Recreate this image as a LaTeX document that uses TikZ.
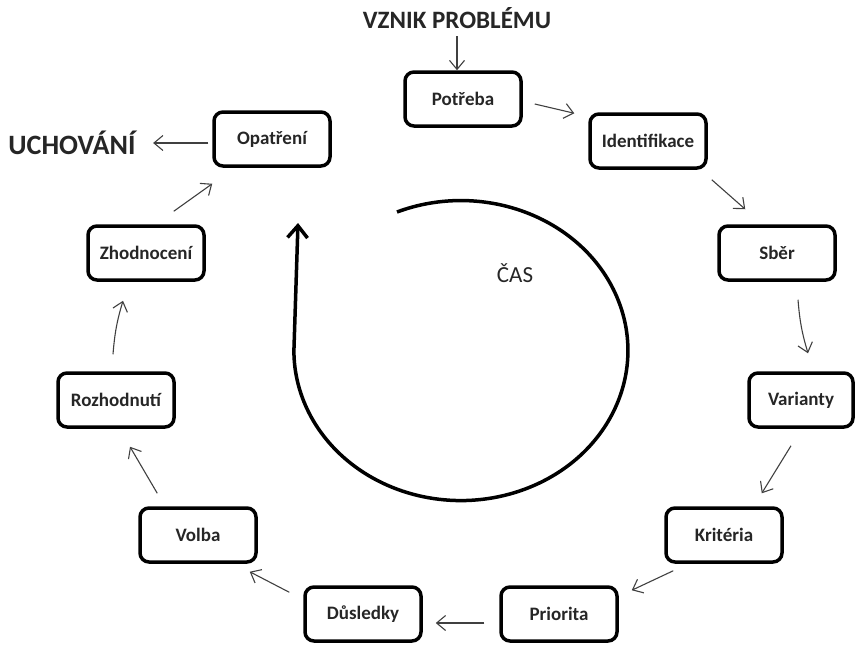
\documentclass[tikz,border=0pt]{standalone}
\usepackage{fontspec}
\setmainfont{Carlito}
\usetikzlibrary{arrows.meta}
\begin{document}
\begin{tikzpicture}[x=1pt,y=-1pt,
  krok/.style={draw,line width=3.5pt,rounded corners=9pt,minimum width=116pt,minimum height=54pt,inner sep=0pt,font=\fontsize{19}{22}\selectfont\bfseries,text=black!85},
  sipka/.style={-{Straight Barb[length=9pt,width=15pt]},line width=1.1pt,draw=black!75},
  nadpis/.style={font=\fontsize{25}{29}\selectfont\bfseries,text=black!85},
  spirala/.style={-{Straight Barb[length=12pt,width=20pt]},line width=3.5pt}]

\useasboundingbox (0,0) rectangle (856,646);

\node[nadpis] (vznik) at (457,18) {VZNIK PROBLÉMU};
\node[nadpis,font=\fontsize{28}{32}\selectfont\bfseries] (uchovani) at (72,143) {UCHOVÁNÍ};
\node[font=\fontsize{23}{27}\selectfont,text=black!85] (cas) at (515,273) {ČAS};

\node[krok] (potreba) at (463,99) {Potřeba};
\node[krok] (identifikace) at (648,141) {Identifikace};
\node[krok] (sber) at (777,253) {Sběr};
\node[krok,minimum width=104pt] (varianty) at (801,400) {Varianty};
\node[krok] (kriteria) at (724,535) {Kritéria};
\node[krok] (priorita) at (559,614) {Priorita};
\node[krok] (dusledky) at (363,614) {Důsledky};
\node[krok] (volba) at (198,535) {Volba};
\node[krok] (rozhodnuti) at (116,400) {Rozhodnutí};
\node[krok] (zhodnoceni) at (146,253) {Zhodnocení};
\node[krok] (opatreni) at (272,139) {Opatření};

\draw[sipka] ([yshift=-4]vznik.south) -- (vznik.south |- potreba.north);
\draw[sipka] ([shift={(12,5)}]potreba.east) -- ([shift={(-14,1)}]identifikace.north west);
\draw[sipka] ([shift={(4,10)}]identifikace.south east) -- ([shift={(28,-15)}]sber.north west);
\draw[sipka] ([shift={(21,18)}]sber.south) to[bend right=6] ([shift={(7,-18)}]varianty.north);
\draw[sipka] ([shift={(-10,17)}]varianty.south) -- ([shift={(-22,-13)}]kriteria.north east);
\draw[sipka] ([shift={(9,7)}]kriteria.south west) -- ([shift={(13,5)}]priorita.north east);
\draw[sipka] ([shift={(-15,9)}]priorita.west) -- ([shift={(13,9)}]dusledky.east);
\draw[sipka] ([shift={(-14,7)}]dusledky.north west) -- ([shift={(-8,8)}]volba.south east);
\draw[sipka] ([shift={(19,-13)}]volba.north west) -- ([shift={(14,18)}]rozhodnuti.south);
\draw[sipka] ([shift={(-3,-17)}]rozhodnuti.north) to[bend left=6] ([shift={(-23,19)}]zhodnoceni.south);
\draw[sipka] ([shift={(-32,-13)}]zhodnoceni.north east) -- ([shift={(0,16)}]opatreni.south west);
\draw[sipka] ([shift={(-4,4)}]opatreni.west) -- ([shift={(14,0)}]uchovani.east);

\draw[spirala] (397,212) arc[start angle=112.5,end angle=-180,x radius=167pt,y radius=150pt] -- (298,223);
\end{tikzpicture}
\end{document}
